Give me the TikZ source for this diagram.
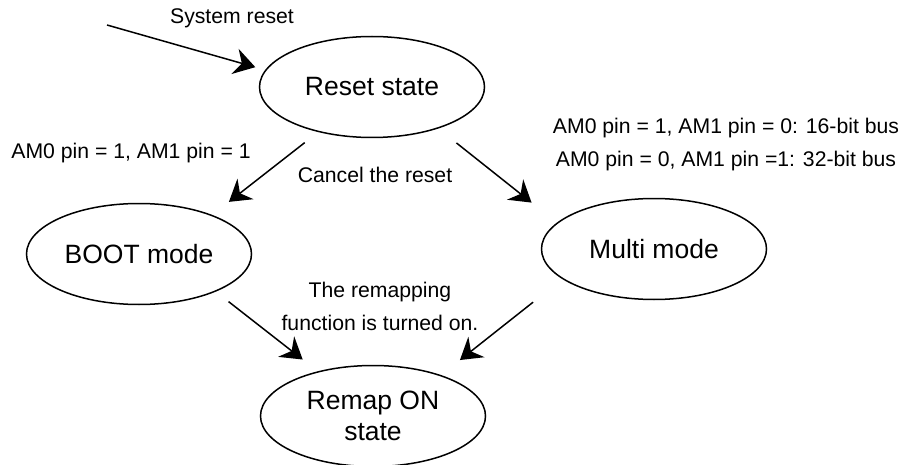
\documentclass[tikz,border=0pt]{standalone}
\usepackage{fontspec}
\setmainfont{Liberation Sans}
\usetikzlibrary{arrows.meta,shapes.geometric}

\begin{document}
\begin{tikzpicture}[x=1pt,y=-1pt,line width=1.5pt,
	-{Stealth[length=21pt,width=26pt,inset=7pt]},
	statenode/.style={draw,ellipse,minimum width=225pt,minimum height=101pt,inner sep=0pt,outer sep=0pt,align=center,font=\fontsize{26.5}{31}\selectfont},
	cond/.style={align=center,font=\fontsize{21.2}{33}\selectfont}]
	\useasboundingbox (0,0) rectangle (904,465);
	\node[statenode] (R) at (372,87) {Reset state};
	\node[statenode] (B) at (139,254) {BOOT mode};
	\node[statenode] (M) at (654,249) {Multi mode};
	\node[statenode] (N) at (373,416) {Remap ON\\state};
	\coordinate (S) at (107,25);

	\node[cond] (s) at (232,18) {System reset};
	\node[cond] (b) at (131,153) {AM0 pin = 1, AM1 pin = 1};
	\node[cond] (c) at (375,175) {Cancel the reset};
	\node[cond] (m) at (726,145) {AM0 pin = 1, AM1 pin = 0: 16-bit bus\\AM0 pin = 0, AM1 pin =1: 32-bit bus};
	\node[cond] (n) at (380,306) {The remapping\\function is turned on.};

	\draw[shorten >=11pt] (S) to (R.171);
	\draw[shorten <=18pt,shorten >=22pt] (R.220) to (B.28);
	\draw[shorten <=24pt,shorten >=33pt] (R.-32) to (M.165);
	\draw[shorten <=17pt,shorten >=20pt] (B.-26) to (N.141);
	\draw[shorten <=38pt,shorten >=25pt] (M.198) to (N.31);
\end{tikzpicture}
\end{document}
